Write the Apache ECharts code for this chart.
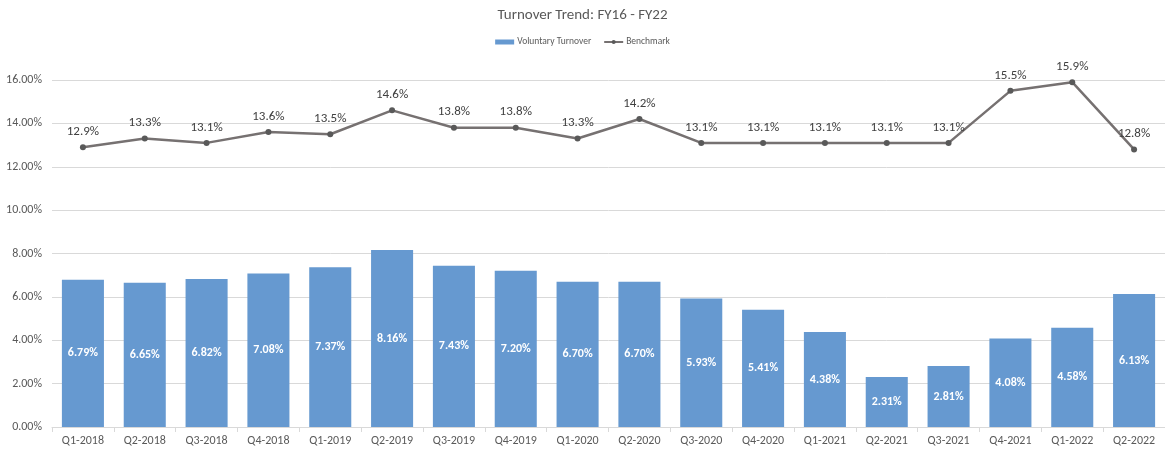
<!DOCTYPE html>
<html><head><meta charset="utf-8">
<script src="https://cdn.jsdelivr.net/npm/echarts@6/dist/echarts.min.js"></script>
<style>html,body{margin:0;padding:0;background:#fff}#c{width:1165px;height:453px}</style>
</head><body><div id="c"></div>
<script>
const categories = ["Q1-2018","Q2-2018","Q3-2018","Q4-2018","Q1-2019","Q2-2019","Q3-2019","Q4-2019","Q1-2020","Q2-2020","Q3-2020","Q4-2020","Q1-2021","Q2-2021","Q3-2021","Q4-2021","Q1-2022","Q2-2022"];
const voluntaryTurnover = [6.79,6.65,6.82,7.08,7.37,8.16,7.43,7.20,6.70,6.70,5.93,5.41,4.38,2.31,2.81,4.08,4.58,6.13];
const benchmark = [12.9,13.3,13.1,13.6,13.5,14.6,13.8,13.8,13.3,14.2,13.1,13.1,13.1,13.1,13.1,15.5,15.9,12.8];

const chart = echarts.init(document.getElementById('c'), null, {renderer:'canvas'});
const font = 'Calibri, Carlito, "Liberation Sans", "Open Sans", sans-serif';
chart.setOption({
  animation:false,
  textStyle:{fontFamily:font},
  title:{text:'Turnover Trend: FY16 - FY22', left:'center', top:3,
    textStyle:{fontSize:15, fontWeight:'normal', color:'#595959', fontFamily:font}},
  legend:{top:32, left:'center', itemGap:12, itemWidth:19, itemHeight:5,
    textStyle:{fontSize:9.5, color:'#595959', fontFamily:font, padding:[0,0,0,-2]},
    data:[{name:'Voluntary Turnover', icon:'rect'},{name:'Benchmark'}]},
  grid:{left:52, right:0, top:80, bottom:26, containLabel:false},
  xAxis:{type:'category', data:categories, boundaryGap:true,
    axisLine:{lineStyle:{color:'#d9d9d9'}},
    axisTick:{show:true, alignWithLabel:false, length:5, lineStyle:{color:'#d9d9d9'}},
    axisLabel:{color:'#595959', fontSize:12, margin:8, interval:0, fontFamily:font}},
  yAxis:{type:'value', min:0, max:16, interval:2,
    axisLine:{show:false}, axisTick:{show:false},
    splitLine:{lineStyle:{color:'#d9d9d9'}},
    axisLabel:{color:'#595959', fontSize:12, margin:10, fontFamily:font,
      formatter:v=>v.toFixed(2)+'%'}},
  series:[
    {name:'Voluntary Turnover', type:'bar', data:voluntaryTurnover, barWidth:'68%',
      itemStyle:{color:'#6699d0'},
      label:{show:true, position:'inside', color:'#ffffff', fontWeight:'bold', fontSize:12,
        fontFamily:font, formatter:p=>p.value.toFixed(2)+'%'}},
    {name:'Benchmark', type:'line', data:benchmark, symbol:'circle', symbolSize:6,
      lineStyle:{color:'#767171', width:2.5}, itemStyle:{color:'#595959'},
      label:{show:true, position:'top', distance:6, color:'#404040', fontSize:13,
        fontFamily:font, formatter:p=>p.value.toFixed(1)+'%'}}
  ]
});
</script></body></html>
